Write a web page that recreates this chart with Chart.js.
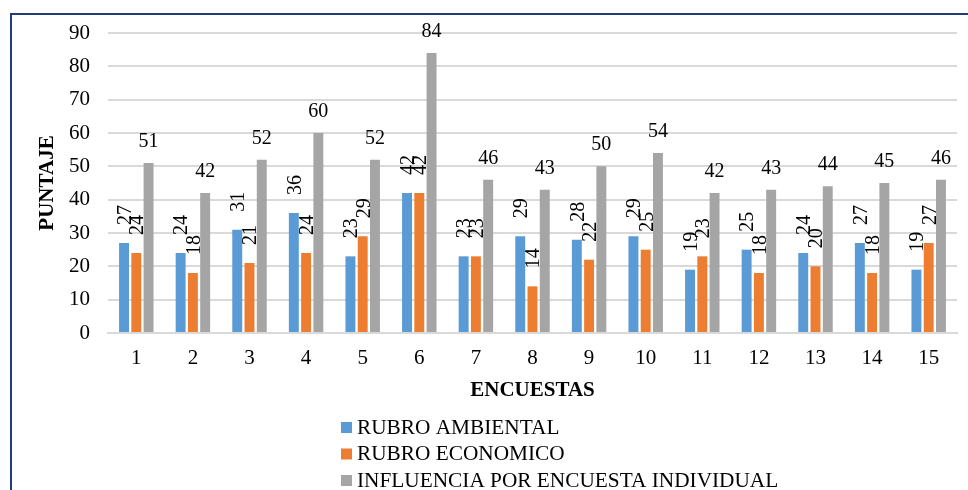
<!DOCTYPE html>
<html>
<head>
<meta charset="utf-8">
<script src="https://cdn.jsdelivr.net/npm/chart.js@4"></script>
<style>
  html, body { margin: 0; padding: 0; background: #fff; overflow: hidden; }
  #wrap { position: relative; width: 968px; height: 490px; }
  #frame {
    position: absolute; left: 10px; top: 13px; width: 1000px; height: 600px;
    border: 2px solid #1f3d7a; pointer-events: none;
  }
  canvas { position: absolute; left: 0; top: 0; }
</style>
</head>
<body>
<div id="wrap">
  <canvas id="chart" width="968" height="490"></canvas>
  <div id="frame"></div>
</div>
<script>
const encuestas = ["1", "2", "3", "4", "5", "6", "7", "8", "9", "10", "11", "12", "13", "14", "15"];
const rubroAmbiental = [27, 24, 31, 36, 23, 42, 23, 29, 28, 29, 19, 25, 24, 27, 19];
const rubroEconomico = [24, 18, 21, 24, 29, 42, 23, 14, 22, 25, 23, 18, 20, 18, 27];
const influencia = [51, 42, 52, 60, 52, 84, 46, 43, 50, 54, 42, 43, 44, 45, 46];
const seriesNames = ["RUBRO AMBIENTAL", "RUBRO ECONOMICO", "INFLUENCIA POR ENCUESTA INDIVIDUAL"];
const colors = ["#5b9bd5", "#ed7d31", "#a5a5a5"];

const FONT = "'Liberation Serif', 'Times New Roman', serif";

// value labels: first two series rotated, last one horizontal
const valueLabels = {
  id: "valueLabels",
  afterDatasetsDraw(chart) {
    const ctx = chart.ctx;
    ctx.save();
    ctx.fillStyle = "#000";
    ctx.font = "20px " + FONT;
    chart.data.datasets.forEach((ds, i) => {
      const meta = chart.getDatasetMeta(i);
      meta.data.forEach((bar, j) => {
        const txt = String(ds.data[j]);
        if (i < 2) {
          ctx.save();
          ctx.translate(bar.x + 6.8, bar.y - 18);
          ctx.rotate(-Math.PI / 2);
          ctx.textAlign = "left";
          ctx.textBaseline = "alphabetic";
          ctx.fillText(txt, 0, 0);
          ctx.restore();
        } else {
          ctx.textAlign = "center";
          ctx.textBaseline = "alphabetic";
          ctx.fillText(txt, bar.x, bar.y - 16);
        }
      });
    });
    ctx.restore();
  }
};

// legend as a vertical list under the axis title
const listLegend = {
  id: "listLegend",
  afterDraw(chart) {
    const ctx = chart.ctx;
    ctx.save();
    ctx.font = "21.3px " + FONT;
    ctx.textAlign = "left";
    ctx.textBaseline = "middle";
    chart.data.datasets.forEach((ds, i) => {
      const y = 427 + i * 26.5;
      ctx.fillStyle = ds.backgroundColor;
      ctx.fillRect(341, y - 5, 11, 11);
      ctx.fillStyle = "#000";
      ctx.fillText(ds.label, 357, y + 1);
    });
    ctx.restore();
  }
};

const ctx = document.getElementById("chart").getContext("2d");
new Chart(ctx, {
  type: "bar",
  data: {
    labels: encuestas,
    datasets: [
      { label: seriesNames[0], data: rubroAmbiental, backgroundColor: colors[0] },
      { label: seriesNames[1], data: rubroEconomico, backgroundColor: colors[1] },
      { label: seriesNames[2], data: influencia, backgroundColor: colors[2] },
    ],
  },
  options: {
    responsive: false,
    animation: false,
    layout: { padding: { left: 12, top: 33, right: 11, bottom: 79 } },
    datasets: {
      bar: { categoryPercentage: 0.65, barPercentage: 0.81 },
    },
    plugins: {
      legend: { display: false },
      tooltip: { enabled: false },
    },
    scales: {
      x: {
        grid: { display: false, drawTicks: false },
        border: { display: true, color: "#d9d9d9", width: 2 },
        ticks: { color: "#000", font: { family: FONT, size: 21 }, padding: 13 },
        title: {
          display: true,
          text: "ENCUESTAS",
          color: "#000",
          font: { family: FONT, size: 21, weight: "bold" },
          padding: { top: 0, bottom: 8 },
        },
        afterFit: (scale) => { scale.height = 78; },
      },
      y: {
        min: 0,
        max: 90,
        ticks: { stepSize: 10, color: "#000", font: { family: FONT, size: 21 }, padding: 18 },
        grid: { color: "#d9d9d9", lineWidth: 2, drawTicks: false },
        border: { display: false },
        title: {
          display: true,
          text: "PUNTAJE",
          color: "#000",
          font: { family: FONT, size: 21, weight: "bold" },
          padding: { top: 23, bottom: 0 },
        },
        afterFit: (scale) => { scale.width = 96; },
      },
    },
  },
  plugins: [valueLabels, listLegend],
});
</script>
</body>
</html>
